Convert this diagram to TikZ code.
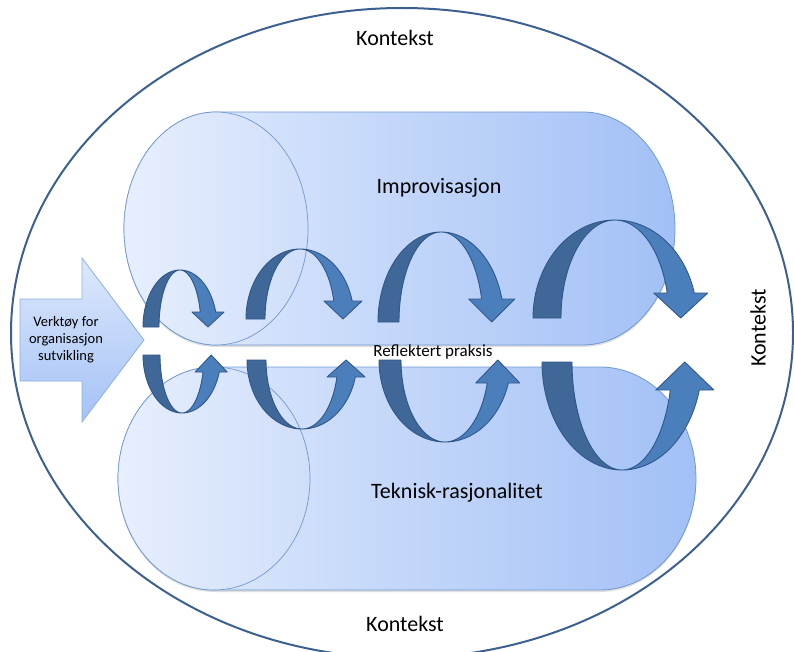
\documentclass[tikz,border=0pt]{standalone}
\usepackage{fontspec}
\setmainfont{Carlito}
\usetikzlibrary{shadows}
\definecolor{ringc}{HTML}{3C6190}
\definecolor{cylL}{HTML}{E4EDFD}
\definecolor{cylR}{HTML}{A2C0F6}
\definecolor{faceL}{HTML}{E7EFFD}
\definecolor{faceR}{HTML}{CFDEFA}
\definecolor{cyledge}{HTML}{7299CF}
\definecolor{arrT}{HTML}{DDE8FC}
\definecolor{arrB}{HTML}{A4C2F6}
\definecolor{arredge}{HTML}{8EAFDF}
\definecolor{cudk}{HTML}{3F6797}
\definecolor{cult}{HTML}{4B7FBC}
\definecolor{cuedge}{HTML}{30578A}
\newcommand{\curly}[8]{%
 \pgfmathsetmacro\cuT{asin(#6/#4)}%
 \pgfmathsetmacro\cuAi{#3-#5}%
 \pgfmathsetmacro\cuYb{#2-(#8)*(#6)}%
 \pgfmathsetmacro\cuM{#1+(#3+\cuAi)/2*cos(\cuT)}%
 \path[cudark] plot[domain=180:90,samples=40] ({#1+#3*cos(\x)},{#2-(#8)*#4*sin(\x)})
   -- plot[domain=90:180,samples=40] ({#1+\cuAi*cos(\x)},{#2-(#8)*#4*sin(\x)}) -- cycle;
 \path[culight] plot[domain=90:\cuT,samples=40] ({#1+#3*cos(\x)},{#2-(#8)*#4*sin(\x)})
   -- (\cuM+#7,\cuYb) -- (\cuM,#2) -- (\cuM-#7,\cuYb)
   -- plot[domain=\cuT:90,samples=40] ({#1+\cuAi*cos(\x)},{#2-(#8)*#4*sin(\x)}) -- cycle;
}
\tikzset{
 ring/.style={draw=ringc,line width=2pt},
 cylbody/.style={draw=cyledge,line width=0.8pt,left color=cylL,right color=cylR,
   drop shadow={shadow xshift=0pt,shadow yshift=-2pt,opacity=0.25}},
 cylface/.style={draw=cyledge,line width=0.7pt,left color=faceL,right color=faceR},
 bigarrow/.style={draw=arredge,line width=0.8pt,top color=arrT,bottom color=arrB},
 cudark/.style={fill=cudk,draw=cuedge,line width=0.9pt,line join=round},
 culight/.style={fill=cult,draw=cuedge,line width=0.9pt,line join=round},
 big/.style={font=\fontsize{22}{26}\selectfont,text=black},
 small/.style={font=\fontsize{14.5}{17}\selectfont,text=black,align=center},
 mid/.style={font=\fontsize{17}{20}\selectfont,text=black}
}
\begin{document}
\begin{tikzpicture}[x=1pt,y=-1pt]
\useasboundingbox (0,0) rectangle (794,652);
\fill[white] (0,0) rectangle (794,652);
% context ellipse
\path[ring,fill=white] (402,333) ellipse [x radius=391, y radius=325];
% top cylinder
\path[cylbody] (216,112) -- (583,112)
  -- plot[domain=-90:90,samples=60] ({583+92*cos(\x)},{228.5+116.5*sin(\x)})
  -- (216,345)
  -- plot[domain=90:270,samples=60] ({216+92*cos(\x)},{228.5+116.5*sin(\x)}) -- cycle;
\path[cylface] (216,228.5) ellipse [x radius=92, y radius=116.5];
% bottom cylinder
\path[cylbody] (214,367) -- (600,367)
  -- plot[domain=-90:90,samples=60] ({600+96*cos(\x)},{478.5+111.5*sin(\x)})
  -- (214,590)
  -- plot[domain=90:270,samples=60] ({214+96*cos(\x)},{478.5+111.5*sin(\x)}) -- cycle;
\path[cylface] (214,478.5) ellipse [x radius=96, y radius=111.5];
% input arrow
\path[bigarrow] (20,299) -- (82,299) -- (82,258) -- (144,340) -- (82,422) -- (82,381) -- (20,381) -- cycle;
\node[small] (tool) at (66,340) {Verktøy for\\organisasjon\\sutvikling};
% curly arrows: cx, b, a, h, w, d, hw, s
\curly{180}{327}{37}{57}{16}{15}{16}{1}
\curly{182}{355}{39}{58}{17}{17}{16}{-1}
\curly{300}{319}{54}{70}{19}{18}{19}{1}
\curly{302}{360}{55}{69}{19}{17}{19}{-1}
\curly{441}{322}{63}{90}{21}{23}{23}{1}
\curly{445}{360}{66}{82}{22}{23}{22}{-1}
\curly{615}{318}{82}{98}{28}{25}{27}{1}
\curly{622}{362}{80}{108}{30}{28}{29}{-1}
% labels
\node[big] (ktop) at (395,38) {Kontekst};
\node[big] (kbot) at (405,624) {Kontekst};
\node[big,rotate=90] (kright) at (758,328) {Kontekst};
\node[big] (impro) at (439,188) {Improvisasjon};
\node[big] (tekn) at (457,493) {Teknisk-rasjonalitet};
\node[mid] (refl) at (433,352) {Reflektert praksis};
\end{tikzpicture}
\end{document}
